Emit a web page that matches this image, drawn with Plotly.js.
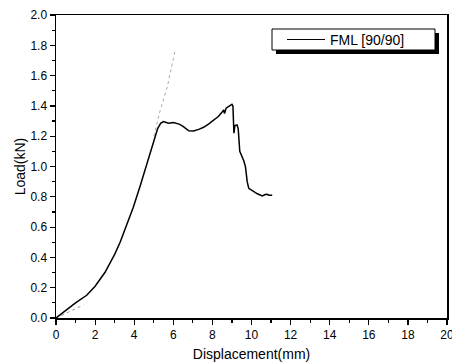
<!DOCTYPE html>
<html>
<head>
<meta charset="utf-8">
<script src="https://cdn.plot.ly/plotly-3.0.1.min.js"></script>
<style>html,body{margin:0;padding:0;background:#fff;}#chart{width:452px;height:364px;}</style>
</head>
<body>
<div id="chart"></div>
<script>
// Main measured curve
var displacement = [0, 0.5, 1.0, 1.57, 2.0, 2.5, 3.0, 3.28, 3.6, 3.95, 4.3, 4.7, 5.0, 5.2, 5.35, 5.5, 5.75, 6.0, 6.3, 6.5, 6.79, 7.04, 7.3, 7.55, 7.8, 8.07, 8.3, 8.5, 8.58, 8.62, 8.7, 9.0, 9.05, 9.1, 9.15, 9.26, 9.32, 9.4, 9.52, 9.6, 9.69, 9.78, 9.86, 10.12, 10.3, 10.55, 10.7, 10.8, 10.9, 11.06];
var load = [0, 0.05, 0.10, 0.15, 0.21, 0.30, 0.42, 0.50, 0.61, 0.73, 0.87, 1.04, 1.175, 1.25, 1.285, 1.296, 1.285, 1.29, 1.28, 1.265, 1.236, 1.234, 1.245, 1.259, 1.28, 1.307, 1.33, 1.36, 1.373, 1.35, 1.385, 1.41, 1.40, 1.22, 1.27, 1.274, 1.25, 1.10, 1.065, 1.04, 0.999, 0.90, 0.856, 0.834, 0.82, 0.805, 0.815, 0.816, 0.81, 0.81];
// Faint dotted guide segments
var dotLowX = [0, 1.4];
var dotLowY = [0, 0.086];
var dotHighX = [5.0, 5.33, 5.7, 5.85, 6.1];
var dotHighY = [1.2, 1.37, 1.53, 1.62, 1.77];
var seriesName = 'FML [90/90]';
var xTicks = [0, 2, 4, 6, 8, 10, 12, 14, 16, 18, 20];
var yTicks = [0.0, 0.2, 0.4, 0.6, 0.8, 1.0, 1.2, 1.4, 1.6, 1.8, 2.0];

var traces = [
  {x: dotLowX, y: dotLowY, mode: 'lines', line: {color: '#999', width: 1, dash: 'dot'}, showlegend: false, hoverinfo: 'skip'},
  {x: dotHighX, y: dotHighY, mode: 'lines', line: {color: '#aaa', width: 1, dash: 'dot'}, showlegend: false, hoverinfo: 'skip'},
  {x: displacement, y: load, mode: 'lines', name: seriesName, line: {color: '#000', width: 1.5}, showlegend: false}
];

var font = 'Arial, "Liberation Sans", sans-serif';
var layout = {
  width: 452, height: 364,
  margin: {l: 56, r: 5, t: 15, b: 46},
  paper_bgcolor: '#fff', plot_bgcolor: '#fff',
  font: {family: font, color: '#000', size: 12},
  xaxis: {
    range: [0, 20], tickvals: xTicks, ticktext: xTicks.map(String),
    showgrid: false, zeroline: false, showline: true, linecolor: '#000', linewidth: 1.5, mirror: true,
    ticks: 'outside', ticklen: 5, tickwidth: 1.2, tickcolor: '#000',
    minor: {dtick: 1, ticks: 'outside', ticklen: 3, tickcolor: '#000', showgrid: false},
    tickfont: {size: 12, family: font},
    ticklabeloverflow: 'allow',
    title: {text: 'Displacement(mm)', font: {size: 14, family: font}, standoff: 8}
  },
  yaxis: {
    range: [0, 2.0], tickvals: yTicks, ticktext: yTicks.map(function(v){return v.toFixed(1);}),
    showgrid: false, zeroline: false, showline: true, linecolor: '#000', linewidth: 1.5, mirror: true,
    ticks: 'outside', ticklen: 5, tickwidth: 1.2, tickcolor: '#000',
    minor: {dtick: 0.1, ticks: 'outside', ticklen: 3, tickcolor: '#000', showgrid: false},
    tickfont: {size: 12, family: font},
    title: {text: 'Load(kN)', font: {size: 14, family: font}, standoff: 1}
  },
  showlegend: false,
  shapes: [
    // legend shadow
    {type: 'rect', xref: 'paper', yref: 'paper', x0: (276-56)/391, x1: (439-56)/391, y0: (318-54)/303, y1: (318-33)/303, fillcolor: '#000', line: {width: 0}},
    // legend box
    {type: 'rect', xref: 'paper', yref: 'paper', x0: (272-56)/391, x1: (435-56)/391, y0: (318-50)/303, y1: (318-29)/303, fillcolor: '#fff', line: {color: '#000', width: 1}},
    // legend line sample
    {type: 'line', xref: 'paper', yref: 'paper', x0: (287-56)/391, x1: (325-56)/391, y0: (318-39.5)/303, y1: (318-39.5)/303, line: {color: '#000', width: 1.2}}
  ],
  annotations: [
    {xref: 'paper', yref: 'paper', x: (328-56)/391, y: (318-39.5)/303, xanchor: 'left', yanchor: 'middle', text: seriesName, showarrow: false, font: {size: 14, family: font, color: '#000'}}
  ]
};

Plotly.newPlot('chart', traces, layout, {displayModeBar: false, staticPlot: true});
</script>
</body>
</html>
